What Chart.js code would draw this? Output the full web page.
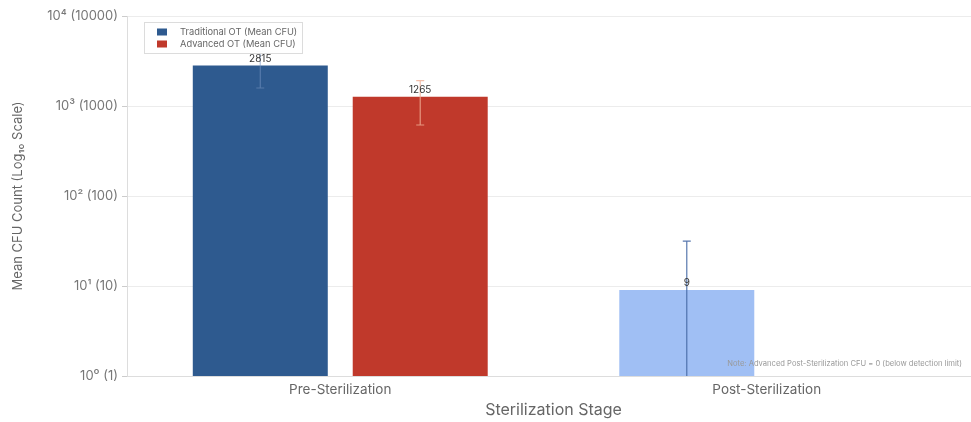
<!DOCTYPE html>
<html>
<head>
<meta charset="utf-8">
<script src="https://cdn.jsdelivr.net/npm/chart.js@4.4.0/dist/chart.umd.min.js"></script>
<style>
  body { margin: 0; background: #fff; overflow: hidden; }
  #wrap { width: 980px; height: 422px; }
</style>
</head>
<body>
<div id="wrap"><canvas id="myChart"></canvas></div>
<script>
var stages = ['Pre-Sterilization', 'Post-Sterilization'];
var traditional = [2815, 9];
var traditionalSd = [1230, 22.6];
var advanced = [1265, null];   // post value is 0, can't sit on a log axis
var advancedSd = [650, null];
var yTicks = [1, 10, 100, 1000, 10000];
var yTickLabels = ['10⁰ (1)', '10¹ (10)', '10² (100)', '10³ (1000)', '10⁴ (10000)'];
var noteText = 'Note: Advanced Post-Sterilization CFU = 0 (below detection limit)';

var FONT = 'Inter, "Liberation Sans", sans-serif';

var tradColors = ['#2e5a8f', '#a0bff4'];
var advColors = ['#c0392b', '#c0392b'];
var errColors = [
  ['rgba(120,150,195,0.55)', 'rgba(70,105,165,0.9)'],
  ['rgba(240,175,150,0.8)', 'rgba(240,175,150,0.8)']
];

// error bars, legend, value labels and note on top of the bars
var extras = {
  id: 'extras',
  afterDatasetsDraw: function(chart) {
    var ctx = chart.ctx;
    var y = chart.scales.y;
    var area = chart.chartArea;
    var sds = [traditionalSd, advancedSd];

    ctx.save();
    chart.data.datasets.forEach(function(ds, i) {
      var meta = chart.getDatasetMeta(i);
      ds.data.forEach(function(v, j) {
        if (v == null) return;
        var bar = meta.data[j];
        var sd = sds[i][j];
        var top = y.getPixelForValue(v + sd);
        var low = v - sd;
        var bottom = low > 1 ? y.getPixelForValue(low) : area.bottom;
        ctx.strokeStyle = errColors[i][j];
        ctx.lineWidth = 1.2;
        ctx.beginPath();
        ctx.moveTo(bar.x, top); ctx.lineTo(bar.x, bottom);
        ctx.moveTo(bar.x - 4, top); ctx.lineTo(bar.x + 4, top);
        if (low > 1) { ctx.moveTo(bar.x - 4, bottom); ctx.lineTo(bar.x + 4, bottom); }
        ctx.stroke();
      });
    });

    // legend box
    ctx.fillStyle = 'rgba(255,255,255,0.95)';
    ctx.fillRect(144, 22, 158, 31);
    ctx.strokeStyle = '#dcdcdc';
    ctx.lineWidth = 1;
    ctx.strokeRect(144.5, 22.5, 158, 31);
    ctx.font = '9.3px ' + FONT;
    ctx.textAlign = 'left';
    ctx.textBaseline = 'middle';
    chart.data.datasets.forEach(function(ds, i) {
      ctx.fillStyle = ds.backgroundColor[0];
      ctx.fillRect(157, 28.5 + i * 12, 10, 7);
      ctx.fillStyle = '#666';
      ctx.fillText(ds.label, 180, 32.5 + i * 12);
    });

    ctx.font = '10px ' + FONT;
    ctx.fillStyle = '#333';
    ctx.textAlign = 'center';
    ctx.textBaseline = 'bottom';
    chart.data.datasets.forEach(function(ds, i) {
      var meta = chart.getDatasetMeta(i);
      ds.data.forEach(function(v, j) {
        if (v == null) return;
        ctx.fillText(String(v), meta.data[j].x, meta.data[j].y - 2);
      });
    });

    ctx.font = '7.6px ' + FONT;
    ctx.fillStyle = '#999';
    ctx.textAlign = 'right';
    ctx.textBaseline = 'middle';
    ctx.fillText(noteText, 962, 364);
    ctx.restore();
  }
};

var ctx = document.getElementById('myChart');
var myChart = new Chart(ctx, {
  type: 'bar',
  data: {
    labels: stages,
    datasets: [
      {
        label: 'Traditional OT (Mean CFU)',
        data: traditional,
        backgroundColor: tradColors,
        categoryPercentage: 0.75,
        barPercentage: 0.844
      },
      {
        label: 'Advanced OT (Mean CFU)',
        data: advanced,
        backgroundColor: advColors,
        categoryPercentage: 0.75,
        barPercentage: 0.844
      }
    ]
  },
  options: {
    responsive: true,
    maintainAspectRatio: false,
    animation: false,
    layout: { padding: { top: 16, right: 0, left: 0, bottom: 0 } },
    plugins: { legend: { display: false }, tooltip: { enabled: false } },
    scales: {
      x: {
        afterFit: function(s) { s.height = 46; },
        grid: { display: false },
        border: { color: '#dddddd' },
        ticks: { color: '#666', font: { size: 13.5, family: FONT }, padding: -2 },
        title: {
          display: true, text: 'Sterilization Stage', color: '#666',
          font: { size: 16, family: FONT }, padding: { top: 2, bottom: 2 }
        }
      },
      y: {
        type: 'logarithmic',
        min: 1,
        max: 10000,
        afterFit: function(s) { s.width = 127; },
        afterBuildTicks: function(s) { s.ticks = yTicks.map(function(v) { return { value: v }; }); },
        grid: { color: '#ececec', tickColor: '#cccccc', tickLength: 5 },
        border: { color: '#dddddd' },
        ticks: {
          color: '#777', font: { size: 13, family: FONT }, padding: 4,
          callback: function(v) { return yTickLabels[yTicks.indexOf(v)]; }
        },
        title: {
          display: true, text: 'Mean CFU Count (Log₁₀ Scale)', color: '#666',
          font: { size: 13, family: FONT }, padding: { top: 10, bottom: 0 }
        }
      }
    }
  },
  plugins: [extras]
});
</script>
</body>
</html>
